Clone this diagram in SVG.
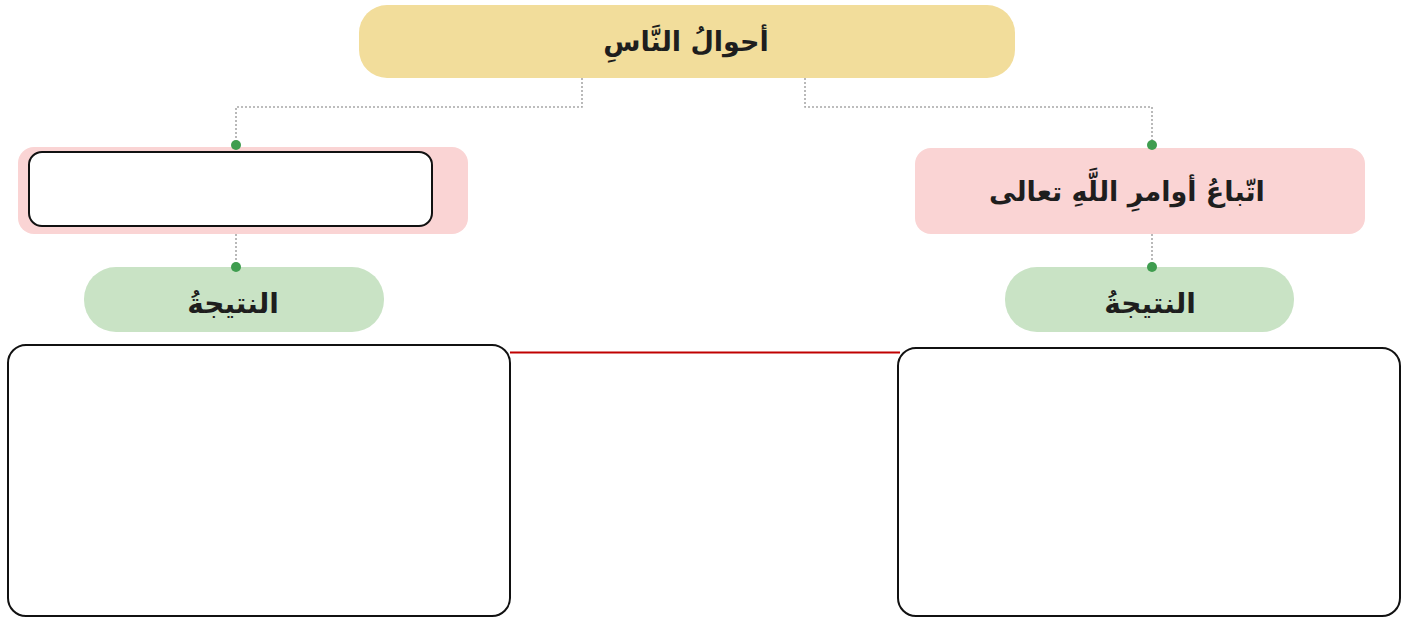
<svg xmlns="http://www.w3.org/2000/svg" width="1408" height="620" viewBox="0 0 1408 620">
<defs>
<style>
.ar{font-family:"DejaVu Sans","Noto Sans",sans-serif;font-weight:bold;fill:#1e1e1e;text-anchor:middle;direction:rtl}
.dot{fill:#3f9d4f}
.conn{fill:none;stroke:#a8a8a8;stroke-width:1.6;stroke-dasharray:2 2}
.ans{fill:#ffffff;stroke:#111;stroke-width:2}
.pink{fill:#fad4d4}
.green{fill:#c9e3c5}
</style>
</defs>
<rect width="1408" height="620" fill="#ffffff"/>
<g id="connectors">
<path class="conn" d="M582 78 V107 H236 V145"/>
<path class="conn" d="M805 78 V107 H1152 V145"/>
<path class="conn" d="M236 234 V267"/>
<path class="conn" d="M1152 234 V267"/>
<line x1="510" y1="352.5" x2="900" y2="352.5" stroke="#c00000" stroke-width="2"/>
</g>
<g id="root">
<rect x="359" y="5" width="656" height="73" rx="28" fill="#f2dd9b"/>
<text class="ar" x="686" y="51" font-size="27">أحوالُ النَّاسِ</text>
</g>
<g id="left-branch">
<rect class="pink" x="18" y="147" width="450" height="87" rx="16"/>
<rect class="ans" x="29" y="152" width="403" height="74" rx="13"/>
</g>
<g id="right-branch">
<rect class="pink" x="915" y="148" width="450" height="86" rx="16"/>
<text class="ar" x="1127" y="201" font-size="27">اتّباعُ أوامرِ اللَّهِ تعالى</text>
</g>
<g id="left-result">
<rect class="green" x="84" y="267" width="300" height="65" rx="32"/>
<text class="ar" x="233" y="313" font-size="28">النتيجةُ</text>
</g>
<g id="right-result">
<rect class="green" x="1005" y="267" width="289" height="65" rx="32"/>
<text class="ar" x="1150" y="313" font-size="28">النتيجةُ</text>
</g>
<g id="dots">
<circle class="dot" cx="236" cy="145" r="5"/>
<circle class="dot" cx="1152" cy="145" r="5"/>
<circle class="dot" cx="236" cy="267" r="5"/>
<circle class="dot" cx="1152" cy="267" r="5"/>
</g>
<g id="left-answer">
<rect class="ans" x="8" y="345" width="502" height="271" rx="18"/>
</g>
<g id="right-answer">
<rect class="ans" x="898" y="348" width="502" height="268" rx="18"/>
</g>
</svg>
